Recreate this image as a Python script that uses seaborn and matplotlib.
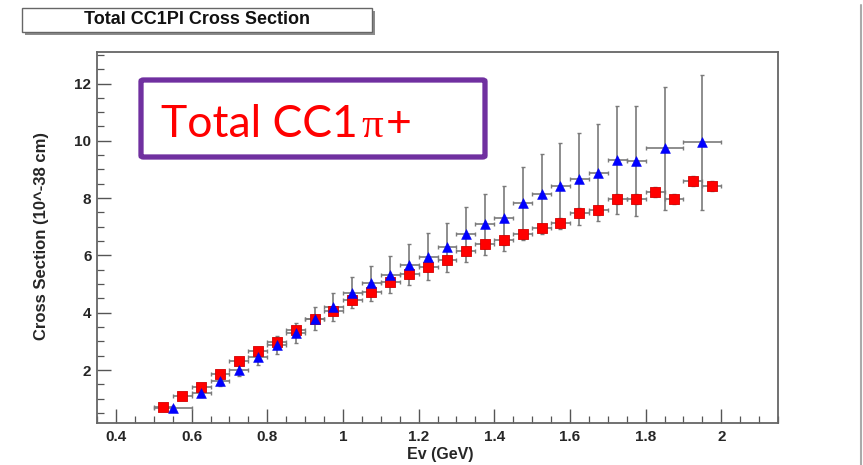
import numpy as np
import pandas as pd
import matplotlib
matplotlib.use("Agg")
import matplotlib.pyplot as plt
import matplotlib.patches as mpatches
from matplotlib.lines import Line2D
from matplotlib.ticker import MultipleLocator
import seaborn as sns

# ---------------- data ----------------
red_x = [0.525, 0.575, 0.625, 0.675, 0.725, 0.775, 0.825, 0.875, 0.925, 0.975,
         1.025, 1.075, 1.125, 1.175, 1.225, 1.275, 1.325, 1.375, 1.425, 1.475,
         1.525, 1.575, 1.625, 1.675, 1.725, 1.775, 1.825, 1.875, 1.925, 1.975]
red_y = [0.70, 1.10, 1.42, 1.86, 2.31, 2.66, 2.98, 3.40, 3.77, 4.07,
         4.46, 4.71, 5.08, 5.34, 5.58, 5.83, 6.17, 6.39, 6.53, 6.74,
         6.95, 7.14, 7.49, 7.58, 7.97, 7.96, 8.21, 7.97, 8.59, 8.42]
red_xerr = [0.025] * 30
red_yerr = [0.08, 0.08, 0.09, 0.09, 0.10, 0.10, 0.10, 0.11, 0.11, 0.12,
            0.12, 0.12, 0.13, 0.13, 0.13, 0.14, 0.14, 0.14, 0.15, 0.15,
            0.15, 0.16, 0.16, 0.16, 0.17, 0.17, 0.17, 0.18, 0.18, 0.18]

blue_x = [0.55, 0.625, 0.675, 0.725, 0.775, 0.825, 0.875, 0.925, 0.975, 1.025,
          1.075, 1.125, 1.175, 1.225, 1.275, 1.325, 1.375, 1.425, 1.475, 1.525,
          1.575, 1.625, 1.675, 1.725, 1.775, 1.85, 1.95]
blue_y = [0.66, 1.21, 1.61, 2.00, 2.46, 2.87, 3.30, 3.79, 4.21, 4.70,
          5.02, 5.33, 5.67, 5.95, 6.28, 6.73, 7.08, 7.29, 7.82, 8.13,
          8.41, 8.67, 8.89, 9.32, 9.30, 9.74, 9.95]
blue_xerr = [0.05] + [0.025] * 24 + [0.05, 0.05]
blue_yerr = [0.10, 0.15, 0.18, 0.22, 0.27, 0.30, 0.35, 0.40, 0.49, 0.53,
             0.61, 0.64, 0.72, 0.82, 0.86, 0.97, 1.06, 1.13, 1.27, 1.40,
             1.50, 1.62, 1.69, 1.89, 1.93, 2.14, 2.35]

x_ticks = [0.4, 0.6, 0.8, 1.0, 1.2, 1.4, 1.6, 1.8, 2.0]
x_ticklabels = ["0.4", "0.6", "0.8", "1", "1.2", "1.4", "1.6", "1.8", "2"]
y_ticks = [2, 4, 6, 8, 10, 12]
y_ticklabels = ["2", "4", "6", "8", "10", "12"]

title_text = "Total CC1PI Cross Section"
box_text_parts = ["Total CC1", "\u03c0", "+"]
x_label = "Ev (GeV)"
y_label = "Cross Section (10^-38 cm)"

red_df = pd.DataFrame({"E": red_x, "xs": red_y})
blue_df = pd.DataFrame({"E": blue_x, "xs": blue_y})

# ---------------- figure ----------------
sns.set_style("ticks")
plt.rcParams["font.family"] = ["Liberation Sans", "DejaVu Sans"]

W, H = 863, 465
fig = plt.figure(figsize=(W / 100, H / 100), dpi=100)
fig.patch.set_facecolor("white")

def fx(px):
    return px / W

def fy(py):
    return 1 - py / H

ax_l, ax_r, ax_t, ax_b = 97, 778, 52, 423
ax = fig.add_axes([fx(ax_l), fy(ax_b), fx(ax_r) - fx(ax_l), fy(ax_t) - fy(ax_b)])

ecol = "#7a7a7a"
ax.errorbar(red_x, red_y, xerr=red_xerr, yerr=red_yerr, fmt="none",
            ecolor=ecol, elinewidth=1.2, capsize=1.6, capthick=1.0, zorder=2)
ax.errorbar(blue_x, blue_y, xerr=blue_xerr, yerr=blue_yerr, fmt="none",
            ecolor=ecol, elinewidth=1.2, capsize=1.6, capthick=1.0, zorder=2)

sns.scatterplot(data=red_df, x="E", y="xs", ax=ax, marker="s", s=52,
                color="#ff0000", edgecolor="#d40000", linewidth=0.6, zorder=3)
sns.scatterplot(data=blue_df, x="E", y="xs", ax=ax, marker="^", s=50,
                color="#0000ff", edgecolor="#0000ee", linewidth=0.4, zorder=4)

ax.set_xlim(0.35, 2.15)
ax.set_ylim(0.15, 13.1)
ax.set_xticks(x_ticks)
ax.set_xticklabels(x_ticklabels)
ax.set_yticks(y_ticks)
ax.set_yticklabels(y_ticklabels)
ax.xaxis.set_minor_locator(MultipleLocator(0.05))
ax.yaxis.set_minor_locator(MultipleLocator(0.5))
ax.tick_params(axis="both", which="major", direction="in", length=10,
               width=1.0, color="#555555", labelsize=11, pad=5)
ax.tick_params(axis="both", which="minor", direction="in", length=5,
               width=0.9, color="#555555")
for lab in ax.get_xticklabels() + ax.get_yticklabels():
    lab.set_fontweight("bold")
ax.tick_params(axis="x", pad=5)
ax.tick_params(axis="y", pad=4)
for sp in ax.spines.values():
    sp.set_color("#666666")
    sp.set_linewidth(1.3)

ax.set_xlabel(x_label, fontsize=11.5, fontweight="bold", ha="right", va="center")
ax.xaxis.set_label_coords((473 - ax_l) / (ax_r - ax_l), -(454 - ax_b) / (ax_b - ax_t))
ax.set_ylabel(y_label, fontsize=12, fontweight="bold", va="center", ha="center")
ax.yaxis.set_label_coords(-(ax_l - 42) / (ax_r - ax_l), (ax_b - 236) / (ax_b - ax_t))

# title box (ROOT style with shadow)
shadow = mpatches.Rectangle((fx(25), fy(35)), fx(372) - fx(22), fy(8) - fy(32),
                            transform=fig.transFigure, facecolor="#8c8c8c",
                            edgecolor="none", zorder=5)
tbox = mpatches.Rectangle((fx(22), fy(32)), fx(372) - fx(22), fy(8) - fy(32),
                          transform=fig.transFigure, facecolor="white",
                          edgecolor="#666666", linewidth=1.0, zorder=6)
fig.patches.extend([shadow, tbox])
fig.text(fx(197), fy(20), title_text, ha="center", va="center", fontsize=13,
         fontweight="bold", color="#111111", zorder=7)

# purple annotation box
pbox = mpatches.FancyBboxPatch((fx(141), fy(157)), fx(485) - fx(141), fy(80) - fy(157),
                               boxstyle="round,pad=0,rounding_size=0.003",
                               transform=fig.transFigure, facecolor="white",
                               edgecolor="#7030a0", linewidth=3.8, zorder=8)
fig.patches.append(pbox)
fig.text(fx(161), fy(137), box_text_parts[0], ha="left", va="baseline", fontsize=32,
         color="#ff0000", family=["Lato", "DejaVu Sans"], zorder=9)
fig.text(fx(361), fy(137), box_text_parts[1], ha="left", va="baseline", fontsize=31,
         color="#ff0000", family=["Liberation Serif", "DejaVu Serif"], zorder=9)
fig.text(fx(386), fy(137), box_text_parts[2], ha="left", va="baseline", fontsize=32,
         color="#ff0000", family=["Lato", "DejaVu Sans"], zorder=9)

# slide border on the right
fig.lines.append(Line2D([fx(861), fx(861)], [fy(5), 0], transform=fig.transFigure,
                        color="#aaaaaa", linewidth=1.5))

fig.savefig("out.png", dpi=100)
